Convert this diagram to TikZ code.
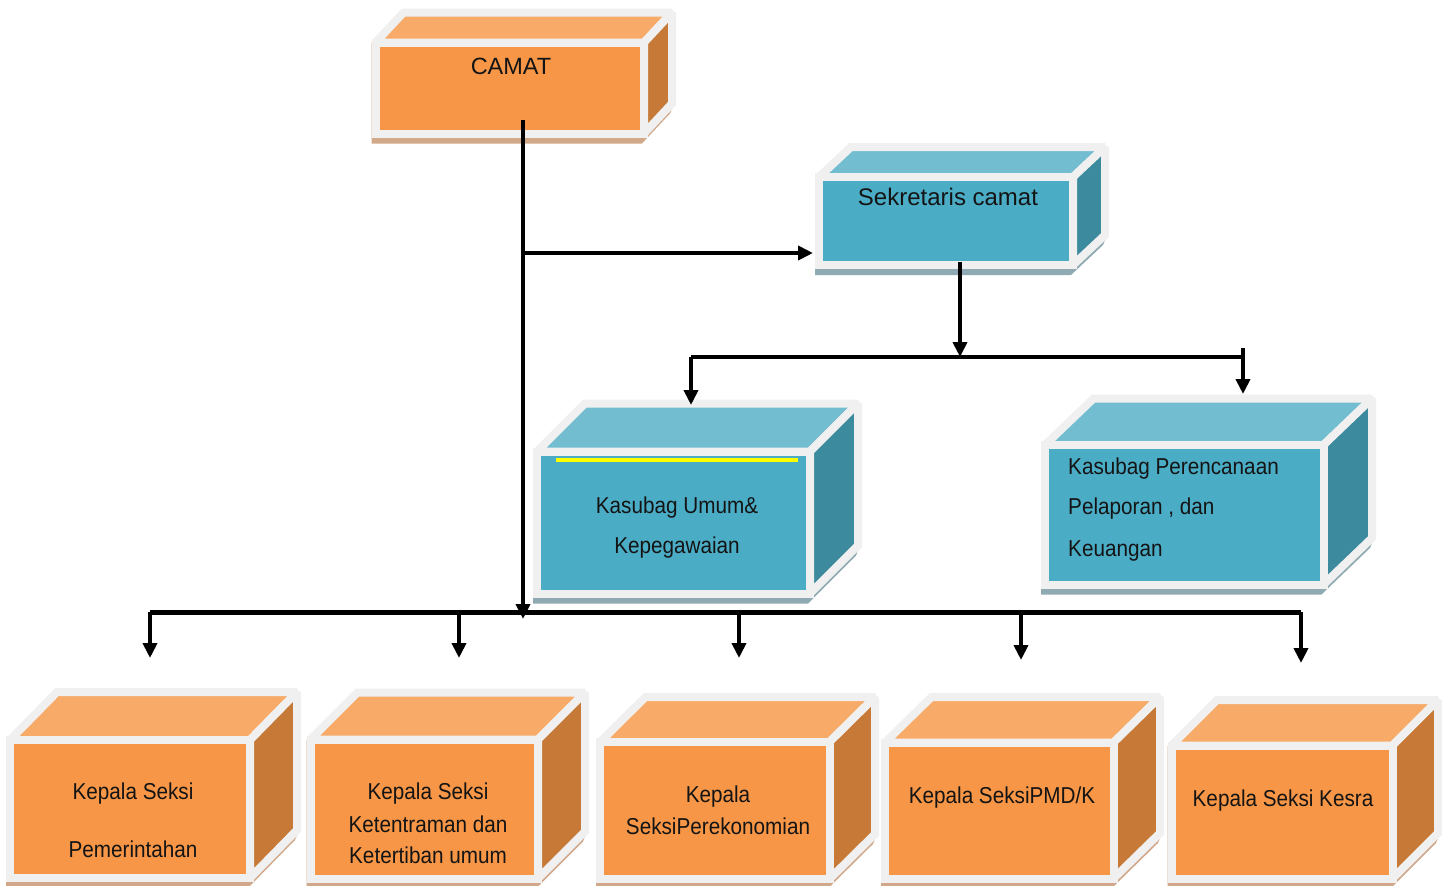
\documentclass[tikz,border=0pt]{standalone}
\usepackage{fontspec}
\setmainfont{Liberation Sans}
\newfontfamily\narrowfont[FakeStretch=0.9]{Liberation Sans}
\usetikzlibrary{arrows.meta}
\definecolor{orFront}{HTML}{F79646}
\definecolor{orTop}{HTML}{F8AB69}
\definecolor{orSide}{HTML}{C77A37}
\definecolor{orShadow}{HTML}{D2A88A}
\definecolor{blFront}{HTML}{4BACC6}
\definecolor{blTop}{HTML}{72BDD0}
\definecolor{blSide}{HTML}{3C8A9E}
\definecolor{blShadow}{HTML}{8FAAB3}
\definecolor{edgeGray}{HTML}{F0F0F0}
\definecolor{hiYellow}{HTML}{FFFF00}
\tikzset{
  cubeedge/.style={draw=edgeGray, line width=8pt, line join=miter, miter limit=2},
  lbl/.style={anchor=base, inner sep=0pt, text=black!92, font=\narrowfont\fontsize{23}{27}\selectfont},
  wide/.style={anchor=base, inner sep=0pt, text=black!92, font=\fontsize{23.5}{27}\selectfont},
  conn/.style={line width=4pt, draw=black},
  arr/.style={conn, -{Triangle[length=15pt,width=14pt]}},
}
% #1 name, #2 x1, #3 y1, #4 x2, #5 y2, #6 dx, #7 dy, #8 palette
\newcommand\boxcube[8]{%
  \fill[#8Shadow] ({#2-4},{#3}) -- ({#2-4},{#5+10}) -- ({#4-2},{#5+10})
     -- ({#4+#6-2},{#5-#7+10}) -- ({#4+#6+2},{#5-#7}) -- (#4,#3) -- cycle;
  \filldraw[cubeedge, fill=#8Top] (#2,#3) -- ({#2+#6},{#3-#7}) -- ({#4+#6},{#3-#7}) -- (#4,#3) -- cycle;
  \filldraw[cubeedge, fill=#8Side] (#4,#3) -- ({#4+#6},{#3-#7}) -- ({#4+#6},{#5-#7}) -- (#4,#5) -- cycle;
  \node[cubeedge, fill=#8Front, minimum width={#4-#2}, minimum height={#5-#3},
        inner sep=0pt, outer sep=0pt, anchor=north west] (#1) at (#2,#3) {};
}
\begin{document}
\begin{tikzpicture}[x=1pt, y=-1pt]
\useasboundingbox[fill=white] (0,0) rectangle (1451,886);

% boxes
\boxcube{camat}{375.5}{42.5}{644}{133.5}{28}{30}{or}
\boxcube{sek}{819}{177}{1073}{265}{32}{30}{bl}
\boxcube{kumum}{537}{451.5}{810}{593.5}{48}{48}{bl}
\boxcube{kper}{1045}{445}{1323.5}{584.5}{48.5}{46.5}{bl}
\boxcube{ksa}{10}{740}{250}{878}{47}{48}{or}
\boxcube{ksb}{310.5}{739.5}{538}{878.5}{47}{47}{or}
\boxcube{ksc}{600}{742}{829.5}{879}{45.5}{45}{or}
\boxcube{ksd}{885}{742.5}{1113.5}{878.5}{46.5}{45.5}{or}
\boxcube{kse}{1171.5}{745.5}{1392.5}{878.5}{45.5}{45.5}{or}

% yellow highlight line
\draw[hiYellow, line width=4.5pt] (556,460) -- (798,460);

% texts
\node[wide] (camat-t) at (511,74) {CAMAT};
\node[wide, font=\fontsize{24}{27}\selectfont] (sek-t) at (948,205) {Sekretaris camat};
\node[lbl] (kumum-a) at (677,513) {Kasubag Umum\&};
\node[lbl] (kumum-b) at (677,553) {Kepegawaian};
\node[lbl, anchor=base west] (kper-a) at (1068,474) {Kasubag Perencanaan};
\node[lbl, anchor=base west] (kper-b) at (1068,514) {Pelaporan , dan};
\node[lbl, anchor=base west] (kper-c) at (1068,556) {Keuangan};
\node[lbl] (ksa-a) at (133,799) {Kepala Seksi};
\node[lbl] (ksa-b) at (133,857) {Pemerintahan};
\node[lbl] (ksb-a) at (428,799) {Kepala Seksi};
\node[lbl] (ksb-b) at (428,832) {Ketentraman dan};
\node[lbl] (ksb-c) at (428,863) {Ketertiban umum};
\node[lbl] (ksc-a) at (718,802) {Kepala};
\node[lbl] (ksc-b) at (718,834) {SeksiPerekonomian};
\node[lbl] (ksd-a) at (1002,803) {Kepala SeksiPMD/K};
\node[lbl] (kse-a) at (1283,806) {Kepala Seksi Kesra};

% connector coordinates
\coordinate (c0) at (523,120);
\coordinate (jsek) at (523,253);
\coordinate (jbus) at (523,619);
\coordinate (s0) at (960,262);
\coordinate (s1) at (960,357);
\coordinate (b2l) at (691,357);
\coordinate (b2r) at (1243,357);
\coordinate (b2rt) at (1243,348);
\coordinate (busl) at (150,612);
\coordinate (busr) at (1301,612);

% connectors
\draw[arr] (c0) -- (jbus);
\draw[arr, shorten >=6pt] (jsek) -- (sek.west |- jsek);
\draw[arr] (s0) -- (s1);
\draw[conn] (b2l) -- (b2r);
\draw[arr] (b2l) -- ++(0,48);
\draw[arr] (b2rt) -- ++(0,46);
\draw[conn, line width=5pt] (busl) -- (busr);
\draw[arr] (busl) -- ++(0,46);
\draw[arr] (459,612) -- (459,658);
\draw[arr] (739,612) -- (739,658);
\draw[arr] (1021,612) -- (1021,660);
\draw[arr] (busr) -- ++(0,51);
\end{tikzpicture}
\end{document}
